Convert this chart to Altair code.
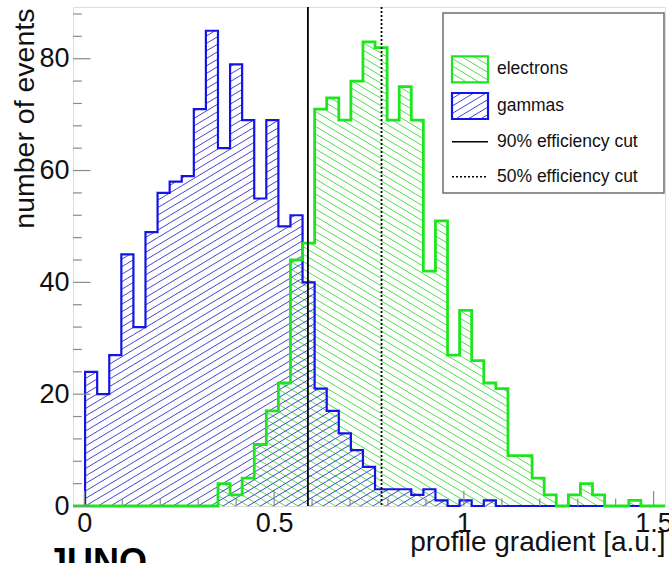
import math
import numpy as np
import pandas as pd
import altair as alt

# ---------------- data ----------------
bin_lo, bin_hi, n_bins = -0.03, 1.53, 49
gammas = [0, 24, 20, 27, 45, 32, 49, 56, 58, 59, 71, 85, 64, 79, 69, 55, 69, 50, 52, 40,
          21, 17, 13, 10, 7, 3, 3, 3, 2, 3, 1, 0, 1, 0, 1,
          0, 0, 0, 0, 0, 0, 0, 0, 0, 0, 0, 0, 0, 0]
electrons = [0, 0, 0, 0, 0, 0, 0, 0, 0, 0, 0, 0,
             4, 2, 5, 11, 17, 22, 44, 47, 71, 73, 69, 76, 83, 82, 69, 75, 69,
             42, 51, 27, 35, 26, 22, 21, 9, 9, 5, 2, 0, 2, 4, 2, 0, 0, 1, 0, 0]
cut_90 = 0.589
cut_50 = 0.783
y_top = 89.25
x_major = [0, 0.5, 1, 1.5]
x_minor = [0.1, 0.2, 0.3, 0.4, 0.6, 0.7, 0.8, 0.9, 1.1, 1.2, 1.3, 1.4]
y_major = [0, 20, 40, 60, 80]
y_minor = [4, 8, 12, 16, 24, 28, 32, 36, 44, 48, 52, 56, 64, 68, 72, 76, 84, 88]
legend_labels = ["electrons", "gammas", "90% efficiency cut", "50% efficiency cut"]

# ---------------- geometry helpers ----------------
W, H = 592, 499
sx = W / (bin_hi - bin_lo)
sy = H / y_top
edges = bin_lo + (bin_hi - bin_lo) / n_bins * np.arange(n_bins + 1)

BLUE = "#1414e6"
BLUE_H = "#4444d4"
GREEN = "#1ee61e"
GREEN_H = "#4ede4e"
FONT = "Liberation Sans"


def hatch_rect(x0, x1, y0, y1, slope, step, phase=0.0):
    """lines y = slope*x + b (pixel units, y up) clipped to rectangle"""
    segs = []
    bs = [y - slope * x for x in (x0, x1) for y in (y0, y1)]
    jmin = math.ceil((min(bs) - phase) / step)
    jmax = math.floor((max(bs) - phase) / step)
    for j in range(jmin, jmax + 1):
        b = phase + j * step
        xa = (y0 - b) / slope
        xb = (y1 - b) / slope
        lo = max(x0, min(xa, xb))
        hi = min(x1, max(xa, xb))
        if hi - lo > 1e-6:
            segs.append((lo, slope * lo + b, hi, slope * hi + b))
    return segs


def px_to_data(segs):
    return pd.DataFrame({
        "x": [bin_lo + s[0] / sx for s in segs],
        "y": [s[1] / sy for s in segs],
        "x2": [bin_lo + s[2] / sx for s in segs],
        "y2": [s[3] / sy for s in segs],
    })


def hist_hatch(counts, slope, step, phase):
    segs = []
    for k, c in enumerate(counts):
        if c <= 0:
            continue
        x0 = (edges[k] - bin_lo) * sx
        x1 = (edges[k + 1] - bin_lo) * sx
        segs += hatch_rect(x0, x1, 0.0, c * sy, slope, step, phase)
    return px_to_data(segs)


def outline(counts):
    xs_, ys_ = [bin_lo], [0]
    for k, c in enumerate(counts):
        xs_ += [edges[k], edges[k + 1]]
        ys_ += [c, c]
    xs_.append(bin_hi)
    ys_.append(0)
    return pd.DataFrame({"x": xs_, "y": ys_, "i": range(len(xs_))})


SLOPE = 0.6
STEP = 7.5

# ---------------- scales / axes ----------------
xs = alt.Scale(domain=[bin_lo, bin_hi], nice=False, zero=False)
ys = alt.Scale(domain=[0, y_top], nice=False, zero=False)
x_axis = alt.Axis(values=x_major, format="~g", ticks=False, domain=False, grid=False,
                  labelFontSize=27, labelPadding=4, labelColor="#111", labelFont=FONT,
                  labelFlush=False,
                  title="profile gradient [a.u.]", titleFontSize=28, titleFont=FONT,
                  titleFontWeight="normal", titleColor="#111",
                  titleAlign="right", titleAnchor="end", titleX=W, titleY=44,
                  titleBaseline="alphabetic")
y_axis = alt.Axis(values=y_major, ticks=False, domain=False, grid=False,
                  labelFontSize=27, labelPadding=4, labelColor="#111", labelFont=FONT,
                  labelFlush=False,
                  title="number of events", titleFontSize=28.5, titleFont=FONT,
                  titleFontWeight="normal", titleColor="#111",
                  titleAngle=-90, titleAlign="right", titleAnchor="end",
                  titleX=-40, titleY=1, titleBaseline="alphabetic")


def X(f="x"):
    return alt.X(f, type="quantitative", scale=xs, axis=x_axis)


def Y(f="y"):
    return alt.Y(f, type="quantitative", scale=ys, axis=y_axis)


# ---------------- histogram layers ----------------
g_hatch = alt.Chart(hist_hatch(electrons, -SLOPE, STEP, 0.0)).mark_rule(
    color=GREEN_H, strokeWidth=1.0).encode(x=X(), y=Y(), x2="x2:Q", y2="y2:Q")
b_hatch = alt.Chart(hist_hatch(gammas, SLOPE, STEP, 0.0)).mark_rule(
    color=BLUE_H, strokeWidth=1.0).encode(x=X(), y=Y(), x2="x2:Q", y2="y2:Q")

b_line = alt.Chart(outline(gammas)).mark_line(
    color=BLUE, strokeWidth=2.2, strokeJoin="miter", interpolate="linear").encode(
    x=X(), y=Y(), order="i:Q")
g_line = alt.Chart(outline(electrons)).mark_line(
    color=GREEN, strokeWidth=2.8, strokeJoin="miter", interpolate="linear").encode(
    x=X(), y=Y(), order="i:Q")

cut_solid = alt.Chart(pd.DataFrame({"x": [cut_90]})).mark_rule(
    color="black", strokeWidth=1.8).encode(x=X())
cut_dot = alt.Chart(pd.DataFrame({"x": [cut_50]})).mark_rule(
    color="black", strokeWidth=1.8, strokeDash=[2, 2]).encode(x=X())

# ---------------- inward ticks ----------------
TICK = "#8a8a8a"
ymaj = alt.Chart(pd.DataFrame({"y": y_major})).mark_rule(color=TICK, strokeWidth=1.2).encode(
    y=Y(), x=alt.value(0), x2=alt.value(17.5))
ymin = alt.Chart(pd.DataFrame({"y": y_minor})).mark_rule(color=TICK, strokeWidth=1.2).encode(
    y=Y(), x=alt.value(0), x2=alt.value(8.8))
xmaj = alt.Chart(pd.DataFrame({"x": x_major})).mark_rule(color=TICK, strokeWidth=1.2).encode(
    x=X(), y=alt.value(H), y2=alt.value(H - 15))
xmin = alt.Chart(pd.DataFrame({"x": x_minor})).mark_rule(color=TICK, strokeWidth=1.2).encode(
    x=X(), y=alt.value(H), y2=alt.value(H - 7.5))

# ---------------- legend (pixel layout converted to data units) ----------------
LX0, LX1, LY0, LY1 = 370, 591, 6, 186          # box (pixels, top-left origin)
SW0, SW1 = 379, 415                               # swatch / line sample x range
ROW_Y = [62.3, 99.0, 134.7, 169.7]                # row centres (pixels)
TXT_X = 424


def dx(px):
    return bin_lo + px / sx


def dy(py_top):
    return (H - py_top) / sy


one = pd.DataFrame({"x": [dx(LX0)], "x2": [dx(LX1)], "y": [dy(LY1)], "y2": [dy(LY0)]})
leg_box = alt.Chart(one).mark_rect(fill="white", stroke="#6e6e6e", strokeWidth=1.5).encode(
    x=X(), x2="x2:Q", y=Y(), y2="y2:Q")

sw_layers = []
for i, (col, hcol, slope) in enumerate([(GREEN, GREEN_H, -SLOPE), (BLUE, BLUE_H, SLOPE)]):
    cy = ROW_Y[i]
    top, bot = cy - 13, cy + 13
    rect = pd.DataFrame({"x": [dx(SW0)], "x2": [dx(SW1)], "y": [dy(bot)], "y2": [dy(top)]})
    sw_layers.append(alt.Chart(rect).mark_rect(fill="white").encode(
        x=X(), x2="x2:Q", y=Y(), y2="y2:Q"))
    segs = hatch_rect(SW0, SW1, H - bot, H - top, slope, STEP, 0.0)
    sw_layers.append(alt.Chart(px_to_data(segs)).mark_rule(color=hcol, strokeWidth=1.0).encode(
        x=X(), y=Y(), x2="x2:Q", y2="y2:Q"))
    sw_layers.append(alt.Chart(rect).mark_rect(fill=None, stroke=col, strokeWidth=2.2).encode(
        x=X(), x2="x2:Q", y=Y(), y2="y2:Q"))

for i, dash in [(2, None), (3, [2, 2])]:
    ln = pd.DataFrame({"x": [dx(SW0)], "x2": [dx(SW1)], "y": [dy(ROW_Y[i])]})
    kw = dict(color="black", strokeWidth=1.6)
    if dash:
        kw["strokeDash"] = dash
    sw_layers.append(alt.Chart(ln).mark_rule(**kw).encode(x=X(), x2="x2:Q", y=Y()))

leg_txt = alt.Chart(pd.DataFrame({
    "label": legend_labels,
    "x": [dx(TXT_X)] * 4,
    "y": [dy(v) for v in ROW_Y],
})).mark_text(align="left", baseline="middle", fontSize=17.5, font=FONT, color="#111").encode(
    x=X(), y=Y(), text="label:N")

juno = alt.Chart(pd.DataFrame({"t": ["JUNO"]})).mark_text(
    align="left", baseline="alphabetic", fontSize=36, font=FONT, fontWeight="bold",
    color="black").encode(x=alt.value(-26), y=alt.value(567), text="t:N")

chart = alt.layer(
    g_hatch, b_hatch, b_line, g_line, cut_solid, cut_dot,
    ymaj, ymin, xmaj, xmin,
    leg_box, *sw_layers, leg_txt, juno,
).properties(
    width=W, height=H,
    autosize=alt.AutoSizeParams(type="none"),
    padding={"left": 73, "top": 7, "right": 4, "bottom": 57},
).configure_view(
    stroke="#8a8a8a", strokeWidth=1.5
).configure(background="white", font=FONT)

chart.save("out.html", embed_options={"renderer": "svg", "actions": False})
